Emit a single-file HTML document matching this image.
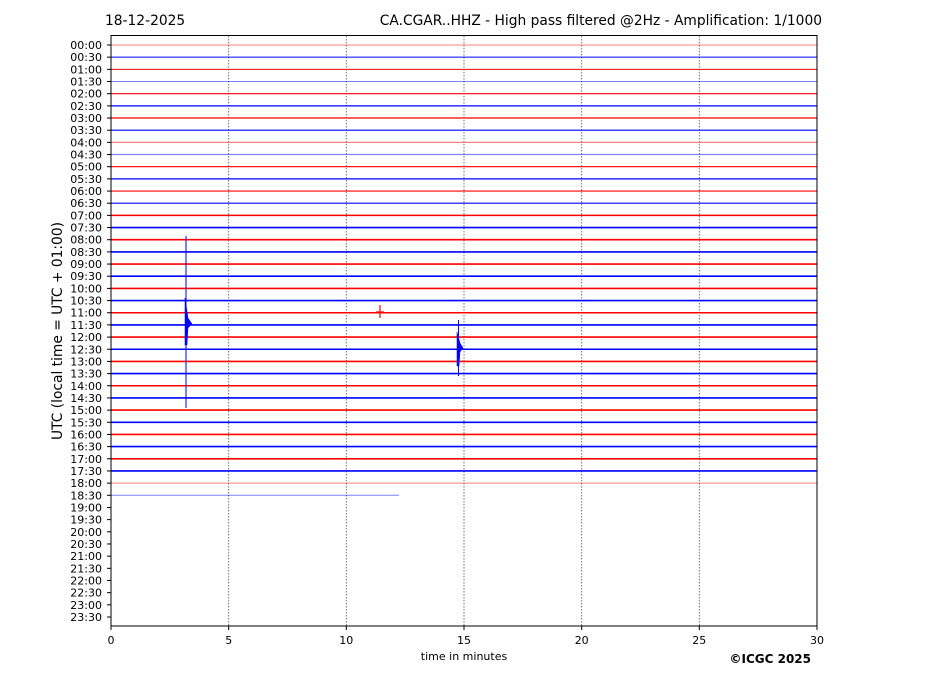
<!DOCTYPE html>
<html><head><meta charset="utf-8"><style>
body{margin:0;background:#fff;}
svg{display:block;font-family:"DejaVu Sans","Liberation Sans",sans-serif;}
</style></head><body>
<svg width="927" height="696" viewBox="0 0 927 696" xmlns="http://www.w3.org/2000/svg">
<rect width="927" height="696" fill="#fff"/>
<text x="105" y="25" font-size="13.8">18-12-2025</text>
<text x="822" y="25" font-size="13.8" text-anchor="end">CA.CGAR..HHZ - High pass filtered @2Hz - Amplification: 1/1000</text>
<g stroke="#555" stroke-width="0.8" stroke-dasharray="1.5,1.5">
<line x1="228.7" y1="36" x2="228.7" y2="626"/>
<line x1="346.3" y1="36" x2="346.3" y2="626"/>
<line x1="464" y1="36" x2="464" y2="626"/>
<line x1="581.7" y1="36" x2="581.7" y2="626"/>
<line x1="699.3" y1="36" x2="699.3" y2="626"/>
</g>
<g id="traces"></g>
<g id="labels" font-size="11" text-anchor="end"></g>
<g stroke="#0000ff" fill="#0000ff">
<line x1="186" y1="236" x2="186" y2="408" stroke-width="1"/>
<path d="M185 298 L188 318 L192 324 L188 328 L187 345 L185 345 Z" stroke-width="0.5"/>
<line x1="458.5" y1="320" x2="458.5" y2="376" stroke-width="1"/>
<path d="M457 332 L460 343 L463 348 L460 352 L459 366 L457 366 Z" stroke-width="0.5"/>
</g>
<g stroke="#ff0000" stroke-width="1.2">
<line x1="380" y1="305" x2="380" y2="318"/>
<line x1="376" y1="312" x2="384" y2="312"/>
</g>
<rect x="111" y="35.5" width="706" height="590.5" fill="none" stroke="#000" stroke-width="1"/>
<g font-size="11" text-anchor="middle">
<text x="111" y="644">0</text><text x="228.7" y="644">5</text><text x="346.3" y="644">10</text>
<text x="464" y="644">15</text><text x="581.7" y="644">20</text><text x="699.3" y="644">25</text><text x="817" y="644">30</text>
</g>
<g stroke="#000" stroke-width="1">
<line x1="111" y1="626" x2="111" y2="630"/><line x1="228.7" y1="626" x2="228.7" y2="630"/><line x1="346.3" y1="626" x2="346.3" y2="630"/>
<line x1="464" y1="626" x2="464" y2="630"/><line x1="581.7" y1="626" x2="581.7" y2="630"/><line x1="699.3" y1="626" x2="699.3" y2="630"/><line x1="817" y1="626" x2="817" y2="630"/>
</g>
<text x="464" y="660" font-size="11" text-anchor="middle">time in minutes</text>
<text x="811" y="663" font-size="12" font-weight="bold" text-anchor="end">©ICGC 2025</text>
<text transform="translate(62,331) rotate(-90)" font-size="13.8" text-anchor="middle">UTC (local time = UTC + 01:00)</text>
<script>
var t=document.getElementById('traces'),l=document.getElementById('labels'),ns="http://www.w3.org/2000/svg";
for(var i=0;i<48;i++){var y=45+i*12.17;
var h=Math.floor(i/2),m=i%2?'30':'00';var s=(h<10?'0':'')+h+':'+m;
var tx=document.createElementNS(ns,'text');tx.setAttribute('x',102);tx.setAttribute('y',y+4);tx.textContent=s;l.appendChild(tx);
var tk=document.createElementNS(ns,'line');tk.setAttribute('x1',107);tk.setAttribute('x2',111);tk.setAttribute('y1',y);tk.setAttribute('y2',y);tk.setAttribute('stroke','#000');l.appendChild(tk);
if(i<=37){var ln=document.createElementNS(ns,'line');ln.setAttribute('x1',111);ln.setAttribute('x2',i==37?399:817);ln.setAttribute('y1',y);ln.setAttribute('y2',y);
ln.setAttribute('stroke',i%2?'#0000ff':'#ff0000');var w=(i<4||i==36||i==37)?1:(i>=14&&i<=35?1.6:1.2);ln.setAttribute('stroke-width',w);
if(i==0||i==36||i==37||i==3||i==8||i==9)ln.setAttribute('stroke-opacity','0.5');t.appendChild(ln);}}
</script>
</svg>
</body></html>
